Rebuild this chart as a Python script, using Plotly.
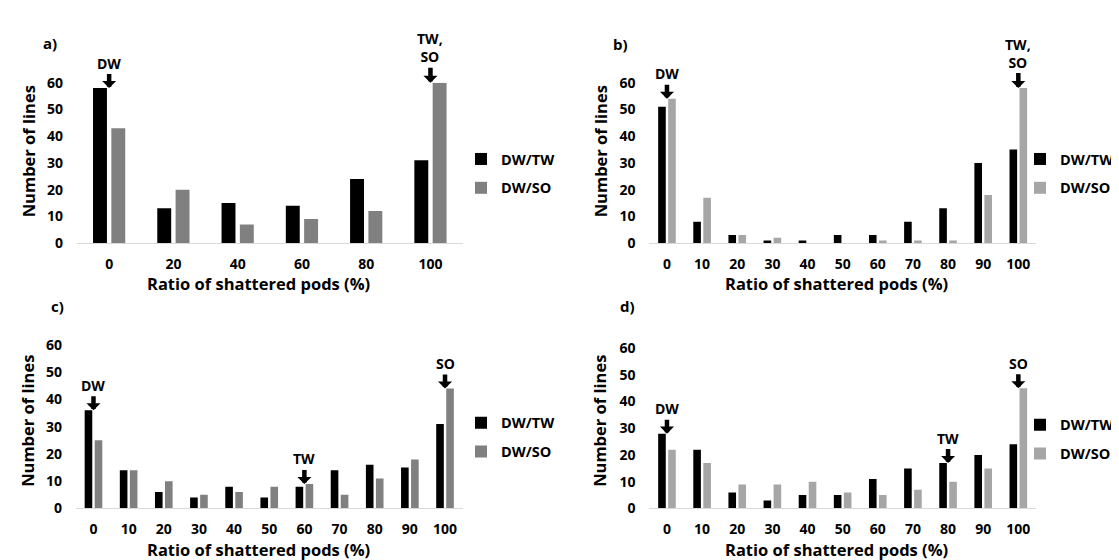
import plotly.graph_objects as go

# ---------------- data ----------------
cats_a = [0, 20, 40, 60, 80, 100]
cats_b = [0, 10, 20, 30, 40, 50, 60, 70, 80, 90, 100]
cats_c = [0, 10, 20, 30, 40, 50, 60, 70, 80, 90, 100]
cats_d = [0, 10, 20, 30, 40, 50, 60, 70, 80, 90, 100]

a_tw = [58, 13, 15, 14, 24, 31]
a_so = [43, 20, 7, 9, 12, 60]
b_tw = [51, 8, 3, 1, 1, 3, 3, 8, 13, 30, 35]
b_so = [54, 17, 3, 2, 0, 0, 1, 1, 1, 18, 58]
c_tw = [36, 14, 6, 4, 8, 4, 8, 14, 16, 15, 31]
c_so = [25, 14, 10, 5, 6, 8, 9, 5, 11, 18, 44]
d_tw = [28, 22, 6, 3, 5, 5, 11, 15, 17, 20, 24]
d_so = [22, 17, 9, 9, 10, 6, 5, 7, 10, 15, 45]

y_ticks = [0, 10, 20, 30, 40, 50, 60]

marks_a = [(0, "DW"), (100, "TW,<br>SO")]
marks_b = [(0, "DW"), (100, "TW,<br>SO")]
marks_c = [(0, "DW"), (60, "TW"), (100, "SO")]
marks_d = [(0, "DW"), (80, "TW"), (100, "SO")]

series_names = ["DW/TW", "DW/SO"]
panel_labels = ["a)", "b)", "c)", "d)"]
x_title = "Ratio of shattered pods (%)"
y_title = "Number of lines"

# ---------------- styling ----------------
W, H = 1119, 560
FONT = "Open Sans"
BLACK = "#000000"
GREY_DARK = "#808080"
GREY_LIGHT = "#A6A6A6"


def px(x):
    return x / W


def py(y):
    return 1 - y / H


panels = [
    dict(cats=cats_a, tw=a_tw, so=a_so, marks=marks_a, col=GREY_DARK, step=20,
         xd=(69, 454.6), yd=(233, 67), leg=(453, 161), ytl=(20, 138), xtl=(250, 275), lab=(33, 26)),
    dict(cats=cats_b, tw=b_tw, so=b_so, marks=marks_b, col=GREY_LIGHT, step=10,
         xd=(641.4, 1027.9), yd=(233, 67), leg=(1012, 161), ytl=(592, 138), xtl=(828, 275), lab=(603, 27)),
    dict(cats=cats_c, tw=c_tw, so=c_so, marks=marks_c, col=GREY_DARK, step=10,
         xd=(67.9, 454.6), yd=(507.7, 338.3), leg=(453, 434), ytl=(20, 417), xtl=(250, 550), lab=(41, 298)),
    dict(cats=cats_d, tw=d_tw, so=d_so, marks=marks_d, col=GREY_LIGHT, step=10,
         xd=(641.4, 1027.9), yd=(507.7, 341.7), leg=(1012, 436), ytl=(592, 417), xtl=(828, 550), lab=(610, 298)),
]

fig = go.Figure()
annotations = []
layout = {}

for i, p in enumerate(panels):
    n = "" if i == 0 else str(i + 1)
    xa, ya = "x" + n, "y" + n
    leg = "legend" + n
    fig.add_trace(go.Bar(x=p["cats"], y=p["tw"], name=series_names[0], marker=dict(color=BLACK, line=dict(width=0)),
                         xaxis=xa, yaxis=ya, legend=leg, legendgroup=f"{i}tw"))
    fig.add_trace(go.Bar(x=p["cats"], y=p["so"], name=series_names[1], marker=dict(color=p["col"], line=dict(width=0)),
                         xaxis=xa, yaxis=ya, legend=leg, legendgroup=f"{i}so"))
    layout["xaxis" + n] = dict(
        domain=[px(p["xd"][0]), px(p["xd"][1])], anchor=ya,
        range=[-p["step"] / 2, 100 + p["step"] / 2], tickmode="array", tickvals=p["cats"],
        ticktext=[str(c) for c in p["cats"]],
        showline=True, linecolor="#D9D9D9", linewidth=1, showgrid=False, zeroline=False,
        ticks="", ticklabelstandoff=8,
        tickfont=dict(family=FONT, size=14, color=BLACK, weight="bold"), fixedrange=True,
    )
    layout["yaxis" + n] = dict(
        domain=[py(p["yd"][0]), py(p["yd"][1])], anchor=xa,
        range=[0, 60], tickmode="array", tickvals=y_ticks,
        showline=False, showgrid=False, zeroline=False, ticks="", ticklabelstandoff=13,
        tickfont=dict(family=FONT, size=14, color=BLACK, weight="bold"), fixedrange=True,
    )
    layout[leg] = dict(
        x=px(p["leg"][0]), y=py(p["leg"][1]), xanchor="left", yanchor="middle",
        traceorder="grouped", tracegroupgap=7, bgcolor="rgba(0,0,0,0)",
        font=dict(family=FONT, size=14.5, color=BLACK, weight="bold"),
    )
    # arrows
    for cat, txt in p["marks"]:
        k = p["cats"].index(cat)
        top = max(p["tw"][k], p["so"][k])
        annotations.append(dict(
            x=cat, y=top, xref=xa, yref=ya, text=txt, showarrow=True,
            ax=0, ay=-35 if "<br>" in txt else -25, arrowhead=1, arrowsize=0.52, arrowwidth=4.5,
            arrowcolor=BLACK, standoff=0,
            font=dict(family=FONT, size=14, color=BLACK, weight="bold"),
        ))
    # axis titles and panel label
    annotations.append(dict(x=px(p["ytl"][0]), y=py(p["ytl"][1]), xref="paper", yref="paper", text=y_title,
                            textangle=-90, showarrow=False, xanchor="center", yanchor="middle",
                            font=dict(family=FONT, size=16.5, color=BLACK, weight="bold")))
    annotations.append(dict(x=px(p["xtl"][0]), y=py(p["xtl"][1]), xref="paper", yref="paper", text=x_title,
                            showarrow=False, xanchor="center", yanchor="middle",
                            font=dict(family=FONT, size=16.5, color=BLACK, weight="bold")))
    annotations.append(dict(x=px(p["lab"][0]), y=py(p["lab"][1]), xref="paper", yref="paper", text=panel_labels[i],
                            showarrow=False, xanchor="left", yanchor="middle",
                            font=dict(family=FONT, size=15, color=BLACK, weight="bold")))

fig.update_layout(
    width=W, height=H, margin=dict(l=0, r=0, t=0, b=0),
    paper_bgcolor="white", plot_bgcolor="white",
    barmode="group", bargap=0.43, bargroupgap=0.24,
    annotations=annotations, showlegend=True,
    **layout,
)

fig.write_html("out.html")
